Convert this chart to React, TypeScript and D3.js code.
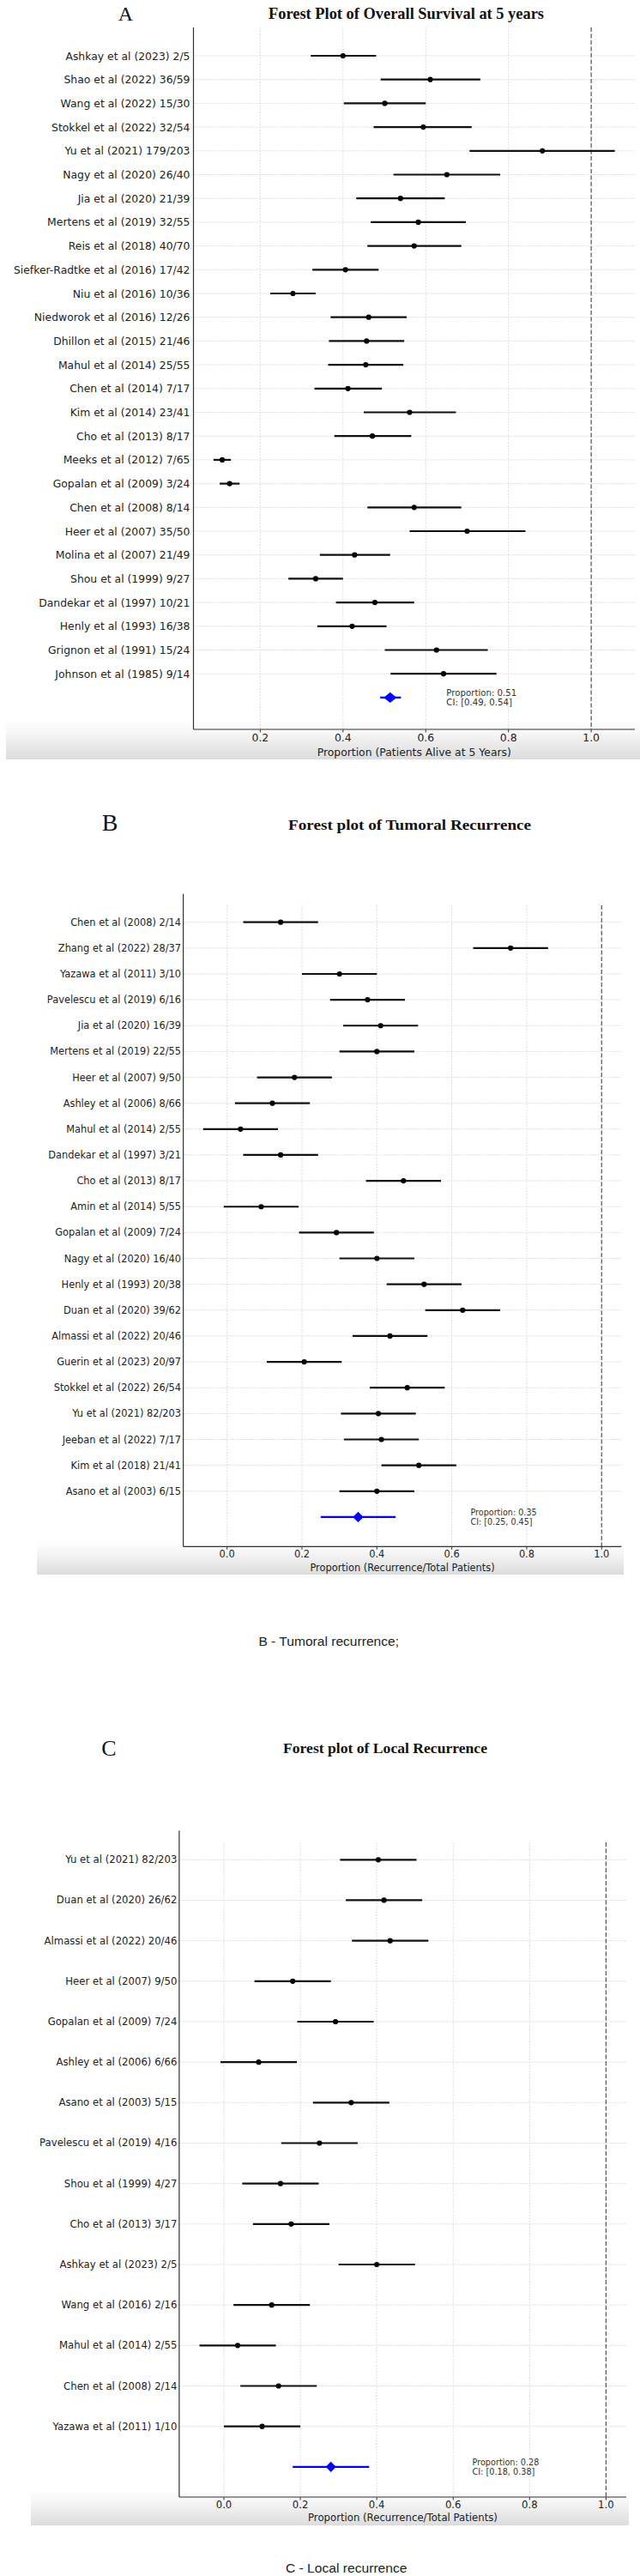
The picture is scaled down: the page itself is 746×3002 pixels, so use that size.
import React from "react";
import * as d3 from "d3";

// ---------- Panel A : Overall survival at 5 years ----------
const labelsA = [
  "Ashkay et al (2023) 2/5", "Shao et al (2022) 36/59", "Wang et al (2022) 15/30",
  "Stokkel et al (2022) 32/54", "Yu et al (2021) 179/203", "Nagy et al (2020) 26/40",
  "Jia et al (2020) 21/39", "Mertens et al (2019) 32/55", "Reis et al (2018) 40/70",
  "Siefker-Radtke et al (2016) 17/42", "Niu et al (2016) 10/36", "Niedworok et al (2016) 12/26",
  "Dhillon et al (2015) 21/46", "Mahul et al (2014) 25/55", "Chen et al (2014) 7/17",
  "Kim et al (2014) 23/41", "Cho et al (2013) 8/17", "Meeks et al (2012) 7/65",
  "Gopalan et al (2009) 3/24", "Chen et al (2008) 8/14", "Heer et al (2007) 35/50",
  "Molina et al (2007) 21/49", "Shou et al (1999) 9/27", "Dandekar et al (1997) 10/21",
  "Henly et al (1993) 16/38", "Grignon et al (1991) 15/24", "Johnson et al (1985) 9/14",
];
const pointsA = [0.400, 0.611, 0.501, 0.594, 0.882, 0.651, 0.539, 0.582, 0.572, 0.406, 0.279, 0.462, 0.457, 0.455, 0.412, 0.561, 0.471, 0.108, 0.126, 0.572, 0.700, 0.428, 0.334, 0.477, 0.422, 0.626, 0.643];
const lowerA = [0.322, 0.491, 0.402, 0.474, 0.706, 0.522, 0.432, 0.467, 0.459, 0.326, 0.224, 0.370, 0.366, 0.364, 0.331, 0.450, 0.379, 0.087, 0.102, 0.459, 0.561, 0.344, 0.268, 0.383, 0.338, 0.501, 0.515];
const upperA = [0.480, 0.732, 0.600, 0.711, 1.057, 0.780, 0.646, 0.697, 0.686, 0.486, 0.334, 0.554, 0.548, 0.546, 0.494, 0.673, 0.565, 0.129, 0.150, 0.686, 0.841, 0.514, 0.400, 0.572, 0.505, 0.750, 0.771];
const summaryA = [0.514, 0.49, 0.54];
const ticksA = [0.2, 0.4, 0.6, 0.8, 1.0];

// ---------- Panel B : Tumoral recurrence ----------
const labelsB = [
  "Chen et al (2008) 2/14", "Zhang et al (2022) 28/37", "Yazawa et al (2011) 3/10",
  "Pavelescu et al (2019) 6/16", "Jia et al (2020) 16/39", "Mertens et al (2019) 22/55",
  "Heer et al (2007) 9/50", "Ashley et al (2006) 8/66", "Mahul et al (2014) 2/55",
  "Dandekar et al (1997) 3/21", "Cho et al (2013) 8/17", "Amin et al (2014) 5/55",
  "Gopalan et al (2009) 7/24", "Nagy et al (2020) 16/40", "Henly et al (1993) 20/38",
  "Duan et al (2020) 39/62", "Almassi et al (2022) 20/46", "Guerin et al (2023) 20/97",
  "Stokkel et al (2022) 26/54", "Yu et al (2021) 82/203", "Jeeban et al (2022) 7/17",
  "Kim et al (2018) 21/41", "Asano et al (2003) 6/15",
];
const pointsB = [0.143, 0.757, 0.300, 0.375, 0.410, 0.400, 0.180, 0.121, 0.036, 0.143, 0.471, 0.091, 0.292, 0.400, 0.526, 0.629, 0.435, 0.206, 0.481, 0.404, 0.412, 0.512, 0.400];
const lowerB = [0.043, 0.657, 0.200, 0.275, 0.310, 0.300, 0.080, 0.021, -0.064, 0.043, 0.371, -0.009, 0.192, 0.300, 0.426, 0.529, 0.335, 0.106, 0.381, 0.304, 0.312, 0.412, 0.300];
const upperB = [0.243, 0.857, 0.400, 0.475, 0.510, 0.500, 0.280, 0.221, 0.136, 0.243, 0.571, 0.191, 0.392, 0.500, 0.626, 0.729, 0.535, 0.306, 0.581, 0.504, 0.512, 0.612, 0.500];
const summaryB = [0.35, 0.25, 0.45];
const ticksB = [0.0, 0.2, 0.4, 0.6, 0.8, 1.0];

// ---------- Panel C : Local recurrence ----------
const labelsC = [
  "Yu et al (2021) 82/203", "Duan et al (2020) 26/62", "Almassi et al (2022) 20/46",
  "Heer et al (2007) 9/50", "Gopalan et al (2009) 7/24", "Ashley et al (2006) 6/66",
  "Asano et al (2003) 5/15", "Pavelescu et al (2019) 4/16", "Shou et al (1999) 4/27",
  "Cho et al (2013) 3/17", "Ashkay et al (2023) 2/5", "Wang et al (2016) 2/16",
  "Mahul et al (2014) 2/55", "Chen et al (2008) 2/14", "Yazawa et al (2011) 1/10",
];
const pointsC = [0.404, 0.419, 0.435, 0.180, 0.292, 0.091, 0.333, 0.250, 0.148, 0.176, 0.400, 0.125, 0.036, 0.143, 0.100];
const lowerC = [0.304, 0.319, 0.335, 0.080, 0.192, -0.009, 0.233, 0.150, 0.048, 0.076, 0.300, 0.025, -0.064, 0.043, 0.000];
const upperC = [0.504, 0.519, 0.535, 0.280, 0.392, 0.191, 0.433, 0.350, 0.248, 0.276, 0.500, 0.225, 0.136, 0.243, 0.200];
const summaryC = [0.28, 0.18, 0.38];
const ticksC = [0.0, 0.2, 0.4, 0.6, 0.8, 1.0];

const SANS = "'DejaVu Sans', sans-serif";
const SERIF = "'Liberation Serif', 'Times New Roman', serif";

type Panel = {
  id: string;
  labels: string[];
  points: number[];
  lower: number[];
  upper: number[];
  summary: number[];
  ticks: number[];
  xLabel: string;
  title: string;
  letter: string;
  caption?: string;
  L: any;
};

const panels: Panel[] = [
  {
    id: "A", labels: labelsA, points: pointsA, lower: lowerA, upper: upperA, summary: summaryA, ticks: ticksA,
    xLabel: "Proportion (Patients Alive at 5 Years)",
    title: "Forest Plot of Overall Survival at 5 years", letter: "A",
    L: {
      left: 225.5, right: 740, spineTop: 32, gridTop: 32, bottom: 850, xDomain: [0.0385, 1.1055],
      rowFirst: 65, rowStep: 27.7, font: 12.4, annFont: 10.2, tickY: 859.8, xLabelY: 876,
      letterX: 146.5, letterY: 24, letterSize: 24,
      titleX: 473.5, titleY: 21.7, titleSize: 19, titleLen: 321,
      band: [7, 746, 838, 885], labelGap: 4, dw: 7.5, dh: 6.2,
    },
  },
  {
    id: "B", labels: labelsB, points: pointsB, lower: lowerB, upper: upperB, summary: summaryB, ticks: ticksB,
    xLabel: "Proportion (Recurrence/Total Patients)",
    title: "Forest plot of Tumoral Recurrence", letter: "B",
    caption: "B - Tumoral recurrence;",
    L: {
      left: 213.6, right: 724.4, spineTop: 1041.7, gridTop: 1055, bottom: 1802.3, xDomain: [-0.117, 1.053],
      rowFirst: 1074.7, rowStep: 30.14, font: 11.4, annFont: 9.6, tickY: 1810.7, xLabelY: 1826.7,
      letterX: 128, letterY: 968.3, letterSize: 28,
      titleX: 477.6, titleY: 966.7, titleSize: 17.6, titleLen: 283,
      band: [43, 727, 1795, 1835], labelGap: 2.5, dw: 6.2, dh: 6.2,
      capX: 383.2, capY: 1918.3, capLen: 163.6,
    },
  },
  {
    id: "C", labels: labelsC, points: pointsC, lower: lowerC, upper: upperC, summary: summaryC, ticks: ticksC,
    xLabel: "Proportion (Recurrence/Total Patients)",
    title: "Forest plot of Local  Recurrence", letter: "C",
    caption: "C - Local recurrence",
    L: {
      left: 208.9, right: 730, spineTop: 2133.3, gridTop: 2147, bottom: 2910, xDomain: [-0.117, 1.053],
      rowFirst: 2167.3, rowStep: 47.17, font: 11.7, annFont: 9.7, tickY: 2919, xLabelY: 2934.3,
      letterX: 127, letterY: 2046, letterSize: 26,
      titleX: 449, titleY: 2043.3, titleSize: 17.6, titleLen: 238,
      band: [36, 733, 2901, 2943], labelGap: 2.5, dw: 6, dh: 6.2,
      capX: 403.7, capY: 2997.5, capLen: 141.6,
    },
  },
];

function ForestPanel({ p }: { p: Panel }) {
  const L = p.L;
  const n = p.labels.length;
  const x = d3.scaleLinear().domain(L.xDomain).range([L.left, L.right]);
  const y = d3.scaleLinear().domain([0, n]).range([L.rowFirst, L.rowFirst + n * L.rowStep]);
  const [sp, slo, shi] = p.summary;
  const sy = y(n);
  const diamond = d3.line()([
    [x(sp) - L.dw, sy], [x(sp), sy - L.dh], [x(sp) + L.dw, sy], [x(sp), sy + L.dh],
  ] as [number, number][]) + "Z";
  const gradId = "band" + p.id;
  const [bx0, bx1, by0, by1] = L.band;
  return (
    <g>
      <defs>
        <linearGradient id={gradId} x1="0" y1="0" x2="0" y2="1">
          <stop offset="0" stopColor="#ffffff" />
          <stop offset="0.35" stopColor="#f6f6f6" />
          <stop offset="1" stopColor="#dcdcdc" />
        </linearGradient>
      </defs>
      <rect x={bx0} y={by0} width={bx1 - bx0} height={by1 - by0} fill={`url(#${gradId})`} />

      {/* letter and title */}
      <text x={L.letterX} y={L.letterY} textAnchor="middle" fontFamily={SERIF} fontSize={L.letterSize} fill="#111">
        {p.letter}
      </text>
      <text x={L.titleX} y={L.titleY} textAnchor="middle" fontFamily={SERIF} fontWeight="bold"
        fontSize={L.titleSize} textLength={L.titleLen} lengthAdjust="spacingAndGlyphs" fill="#111">
        {p.title}
      </text>

      {/* vertical grid */}
      {p.ticks.map((t) => (
        <line key={"vg" + t} x1={x(t)} x2={x(t)} y1={L.gridTop} y2={L.bottom}
          stroke="#d4d4d4" strokeWidth={0.8} strokeDasharray="2,1.5" />
      ))}
      {/* horizontal grid */}
      {p.labels.map((_, i) => (
        <line key={"hg" + i} x1={L.left} x2={L.right} y1={y(i)} y2={y(i)}
          stroke="#dcdcdc" strokeWidth={0.9} strokeDasharray="2,1" />
      ))}
      {/* reference line */}
      <line x1={x(1)} x2={x(1)} y1={L.gridTop} y2={L.bottom} stroke="#555" strokeWidth={1.2} strokeDasharray="5,2.5" />

      {/* study estimates */}
      {p.labels.map((lab, i) => (
        <g key={"s" + i}>
          <line x1={x(p.lower[i])} x2={x(p.upper[i])} y1={y(i)} y2={y(i)} stroke="#111" strokeWidth={2.2} />
          <circle cx={x(p.points[i])} cy={y(i)} r={3.1} fill="#000" />
          <text x={L.left - L.labelGap} y={y(i)} textAnchor="end" dominantBaseline="central"
            fontFamily={SANS} fontSize={L.font} fill="#222">{lab}</text>
        </g>
      ))}

      {/* summary */}
      <line x1={x(slo)} x2={x(shi)} y1={sy} y2={sy} stroke="#0000ff" strokeWidth={2.4} />
      <path d={diamond} fill="#0000ff" />
      <text x={x(0.65)} y={sy - 5.8} dominantBaseline="central" fontFamily={SANS} fontSize={L.annFont} fill="#333">
        {`Proportion: ${sp.toFixed(2)}`}
      </text>
      <text x={x(0.65)} y={sy + 5.8} dominantBaseline="central" fontFamily={SANS} fontSize={L.annFont} fill="#333">
        {`CI: [${slo.toFixed(2)}, ${shi.toFixed(2)}]`}
      </text>

      {/* spines */}
      <line x1={L.left} x2={L.left} y1={L.spineTop} y2={L.bottom} stroke="#333" strokeWidth={1.2} />
      <line x1={L.left} x2={L.right} y1={L.bottom} y2={L.bottom} stroke="#333" strokeWidth={1.2} />
      {p.ticks.map((t) => (
        <g key={"t" + t}>
          <line x1={x(t)} x2={x(t)} y1={L.bottom} y2={L.bottom + 3.5} stroke="#333" strokeWidth={1} />
          <text x={x(t)} y={L.tickY} textAnchor="middle" dominantBaseline="central"
            fontFamily={SANS} fontSize={L.font} fill="#222">{t.toFixed(1)}</text>
        </g>
      ))}
      <text x={(L.left + L.right) / 2} y={L.xLabelY} textAnchor="middle" dominantBaseline="central"
        fontFamily={SANS} fontSize={L.font} fill="#222">{p.xLabel}</text>

      {p.caption && (
        <text x={L.capX} y={L.capY} textAnchor="middle" fontFamily="'Liberation Sans', Arial, sans-serif"
          fontSize={15.5} textLength={L.capLen} lengthAdjust="spacingAndGlyphs" fill="#222">
          {p.caption}
        </text>
      )}
    </g>
  );
}

export default function App() {
  return (
    <svg width={746} height={3002} viewBox="0 0 746 3002"
      style={{ position: "absolute", left: 0, top: 0, background: "#fff" }}>
      <rect x={0} y={0} width={746} height={3002} fill="#fff" />
      {panels.map((p) => (
        <ForestPanel key={p.id} p={p} />
      ))}
    </svg>
  );
}
